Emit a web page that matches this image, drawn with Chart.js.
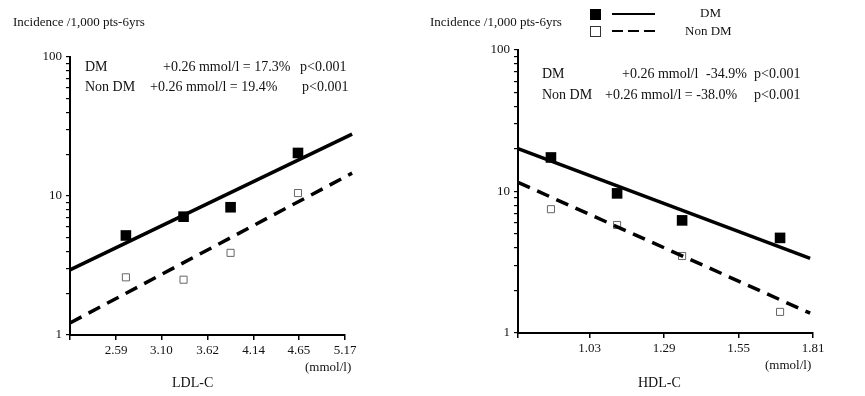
<!DOCTYPE html>
<html>
<head>
<meta charset="utf-8">
<script src="https://cdn.jsdelivr.net/npm/chart.js@4"></script>
<style>
  body { margin: 0; background: #fff; }
  #wrap { position: relative; width: 865px; height: 396px; font-family: "Liberation Serif", "DejaVu Serif", serif; color: #111; }
  canvas { position: absolute; top: 0; }
  .t { position: absolute; white-space: nowrap; line-height: 1; }
  .s13 { font-size: 13px; }
  .s14 { font-size: 14px; }
</style>
</head>
<body>
<div id="wrap">
  <canvas id="ldl" width="440" height="396" style="left:0"></canvas>
  <canvas id="hdl" width="425" height="396" style="left:440px"></canvas>

  <!-- textos del panel izquierdo -->
  <div class="t s13" style="left:13px;top:15px">Incidence /1,000 pts-6yrs</div>
  <div class="t s14" style="left:85px;top:60px">DM</div>
  <div class="t s14" style="left:163px;top:60px">+0.26 mmol/l = 17.3%</div>
  <div class="t s14" style="left:300px;top:60px">p&lt;0.001</div>
  <div class="t s14" style="left:85px;top:80px">Non DM</div>
  <div class="t s14" style="left:150px;top:80px">+0.26 mmol/l = 19.4%</div>
  <div class="t s14" style="left:302px;top:80px">p&lt;0.001</div>
  <div class="t s13" style="left:305px;top:360px">(mmol/l)</div>
  <div class="t s14" style="left:172px;top:376px">LDL-C</div>

  <!-- textos del panel derecho -->
  <div class="t s13" style="left:430px;top:15px">Incidence /1,000 pts-6yrs</div>
  <div class="t s14" style="left:542px;top:67px">DM</div>
  <div class="t s14" style="left:622px;top:67px">+0.26 mmol/l</div>
  <div class="t s14" style="left:706px;top:67px">-34.9%</div>
  <div class="t s14" style="left:754px;top:67px">p&lt;0.001</div>
  <div class="t s14" style="left:542px;top:88px">Non DM</div>
  <div class="t s14" style="left:605px;top:88px">+0.26 mmol/l = -38.0%</div>
  <div class="t s14" style="left:754px;top:88px">p&lt;0.001</div>
  <div class="t s13" style="left:765px;top:358px">(mmol/l)</div>
  <div class="t s14" style="left:638px;top:376px">HDL-C</div>

  <!-- leyenda -->
  <div style="position:absolute;left:590px;top:9px;width:11px;height:11px;background:#000"></div>
  <div style="position:absolute;left:612px;top:13px;width:43px;height:2px;background:#000"></div>
  <div class="t s13" style="left:700px;top:6px">DM</div>
  <div style="position:absolute;left:590px;top:26px;width:9px;height:9px;border:1px solid #333"></div>
  <div style="position:absolute;left:612px;top:30px;width:44px;height:2px;background:repeating-linear-gradient(to right,#000 0 11px,transparent 11px 16px)"></div>
  <div class="t s13" style="left:685px;top:24px">Non DM</div>
</div>

<script>
// datos LDL-C (panel izquierdo)
const ldlTickValues = [2.59, 3.10, 3.62, 4.14, 4.65, 5.17];
const ldlTickLabels = ["2.59", "3.10", "3.62", "4.14", "4.65", "5.17"];
const ldlX = [2.70, 3.35, 3.88, 4.64];
const ldlDm = [5.2, 7.1, 8.3, 20.4];
const ldlNonDm = [2.6, 2.5, 3.9, 10.5];
const ldlFitX = [2.07, 5.25];
const ldlDmFit = [2.94, 27.9];
const ldlNonDmFit = [1.22, 14.6];

// datos HDL-C (panel derecho)
const hdlTickValues = [1.03, 1.29, 1.55, 1.81];
const hdlTickLabels = ["1.03", "1.29", "1.55", "1.81"];
const hdlX = [0.895, 1.126, 1.353, 1.695];
const hdlDm = [17.4, 9.7, 6.25, 4.7];
const hdlNonDm = [7.5, 5.8, 3.5, 1.41];
const hdlFitX = [0.78, 1.80];
const hdlDmFit = [20.1, 3.37];
const hdlNonDmFit = [11.6, 1.38];

// marcas del eje y logaritmico (solo 1, 10 y 100 llevan texto)
const yTicks = [1, 2, 3, 4, 5, 6, 7, 8, 9, 10, 20, 30, 40, 50, 60, 70, 80, 90, 100];
const yLabels = [1, 10, 100];
const fuente = { family: "'Liberation Serif', 'DejaVu Serif', serif", size: 13 };

function pts(xs, ys) { // une x e y en puntos
  return xs.map((x, i) => ({ x: x, y: ys[i] }));
}

function crearPanel(id, o) {
  const datasets = [
    { data: pts(o.fitX, o.dmFit), showLine: true, pointRadius: 0, borderColor: "#000", borderWidth: 3.5, clip: false },
    { data: pts(o.fitX, o.nonFit), showLine: true, pointRadius: 0, borderColor: "#000", borderWidth: 3.5, borderDash: [13, 8], clip: false },
    { data: pts(o.x, o.dm), pointStyle: "rect", pointRadius: 7.5, backgroundColor: "#000", borderColor: "#000", borderWidth: 0 },
    { data: pts(o.x, o.non), pointStyle: "rect", pointRadius: 5, backgroundColor: "#fff", borderColor: "#666", borderWidth: 1 }
  ];
  const config = {
    type: "scatter",
    data: { datasets },
    options: {
      responsive: false,
      animation: false,
      layout: { padding: { top: o.top, right: o.right, left: 0, bottom: 0 } },
      plugins: { legend: { display: false }, tooltip: { enabled: false } },
      scales: {
        x: {
          type: "linear",
          min: o.xmin,
          max: o.xmax,
          afterBuildTicks: (s) => { s.ticks = [{ value: o.xmin }].concat(o.tickValues.map(v => ({ value: v }))); },
          afterFit: (s) => { s.height = o.xh; },
          ticks: {
            autoSkip: false, maxRotation: 0, color: "#111", font: fuente, padding: 3,
            callback: (v, i) => (i === 0 ? "" : o.tickLabels[i - 1])
          },
          grid: { drawOnChartArea: false, color: "#000", tickLength: 5, lineWidth: 1.5 },
          border: { color: "#000", width: 2 }
        },
        y: {
          type: "logarithmic",
          min: 1,
          max: 100,
          afterBuildTicks: (s) => { s.ticks = yTicks.map(v => ({ value: v, major: yLabels.includes(v) })); },
          afterFit: (s) => { s.width = o.yw; },
          ticks: {
            autoSkip: false, color: "#111", font: fuente, padding: 4,
            callback: (v) => (yLabels.includes(v) ? String(v) : "")
          },
          grid: { drawOnChartArea: false, color: "#000", tickLength: 4, lineWidth: 1.2 },
          border: { color: "#000", width: 2 }
        }
      }
    }
  };
  return new Chart(document.getElementById(id), config);
}

crearPanel("ldl", {
  x: ldlX, dm: ldlDm, non: ldlNonDm, fitX: ldlFitX, dmFit: ldlDmFit, nonFit: ldlNonDmFit,
  tickValues: ldlTickValues, tickLabels: ldlTickLabels,
  xmin: 2.07, xmax: 5.17, top: 57, right: 95, xh: 61, yw: 70
});

crearPanel("hdl", {
  x: hdlX, dm: hdlDm, non: hdlNonDm, fitX: hdlFitX, dmFit: hdlDmFit, nonFit: hdlNonDmFit,
  tickValues: hdlTickValues, tickLabels: hdlTickLabels,
  xmin: 0.78, xmax: 1.81, top: 50, right: 52, xh: 63, yw: 78
});
</script>
</body>
</html>
